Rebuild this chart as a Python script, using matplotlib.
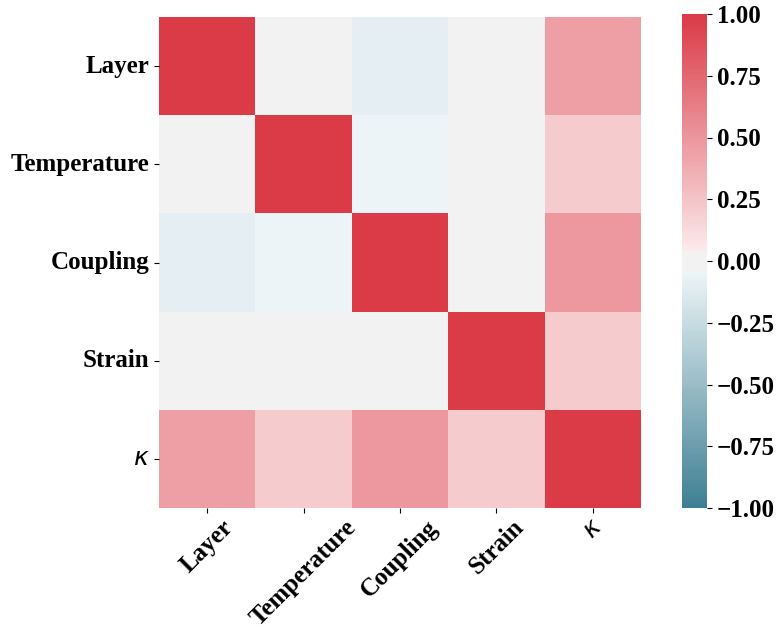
import matplotlib as mpl
import numpy as np
import pandas as pd
mpl.use('Agg')
import matplotlib.pyplot as plt
import seaborn as sns
from seaborn.external import husl
from seaborn.utils import set_hls_values

labels = ['Layer', 'Temperature', 'Coupling', 'Strain', r'$\kappa$']
row_layer = [1.00, 0.00, -0.09, 0.00, 0.45]
row_temperature = [0.00, 1.00, -0.05, 0.00, 0.21]
row_coupling = [-0.09, -0.05, 1.00, 0.00, 0.49]
row_strain = [0.00, 0.00, 0.00, 1.00, 0.21]
row_kappa = [0.45, 0.21, 0.49, 0.21, 1.00]

corr = pd.DataFrame([row_layer, row_temperature, row_coupling, row_strain, row_kappa],
                    index=labels, columns=labels)


# old-style seaborn diverging palette (light end = hls lightness .95)
def light_half(h, n, reverse=False):
    color = husl.husl_to_rgb(h, 75, 50)
    light = set_hls_values(color, l=.95)
    cols = [color, light] if reverse else [light, color]
    return sns.blend_palette(cols, n)


sep = 10
n_half = int(128 - sep // 2)
neg = light_half(220, n_half, reverse=True)
pos = light_half(10, n_half)
mid = [(.95, .95, .95)] * sep
cmap = sns.blend_palette(np.concatenate([neg, mid, pos]), 256, as_cmap=True)

plt.rcParams['font.family'] = 'Liberation Serif'
plt.rcParams['font.size'] = 18

fig = plt.figure(figsize=(7.82, 6.3), dpi=100)
ax = fig.add_axes([159/782, 1 - 508/630, (641 - 159)/782, (508 - 17)/630])
cax = fig.add_axes([682/782, 1 - 508/630, 25/782, (508 - 14)/630])

sns.heatmap(corr, cmap=cmap, vmin=-1, vmax=1, center=0, ax=ax, cbar_ax=cax)

ax.set_xticklabels(ax.get_xticklabels(), rotation=45, ha='center')
ax.set_yticklabels(ax.get_yticklabels(), rotation=0)
ax.tick_params(axis='x', pad=2)
for t in ax.get_xticklabels() + ax.get_yticklabels():
    if 'kappa' not in t.get_text():
        t.set_fontweight('bold')
cax.set_yticks([-1, -0.75, -0.5, -0.25, 0, 0.25, 0.5, 0.75, 1])
cax.set_yticklabels(['\u22121.00', '\u22120.75', '\u22120.50', '\u22120.25', '0.00',
                     '0.25', '0.50', '0.75', '1.00'], fontweight='bold')
for sp in cax.spines.values():
    sp.set_visible(False)

plt.savefig('out.png', dpi=100)
